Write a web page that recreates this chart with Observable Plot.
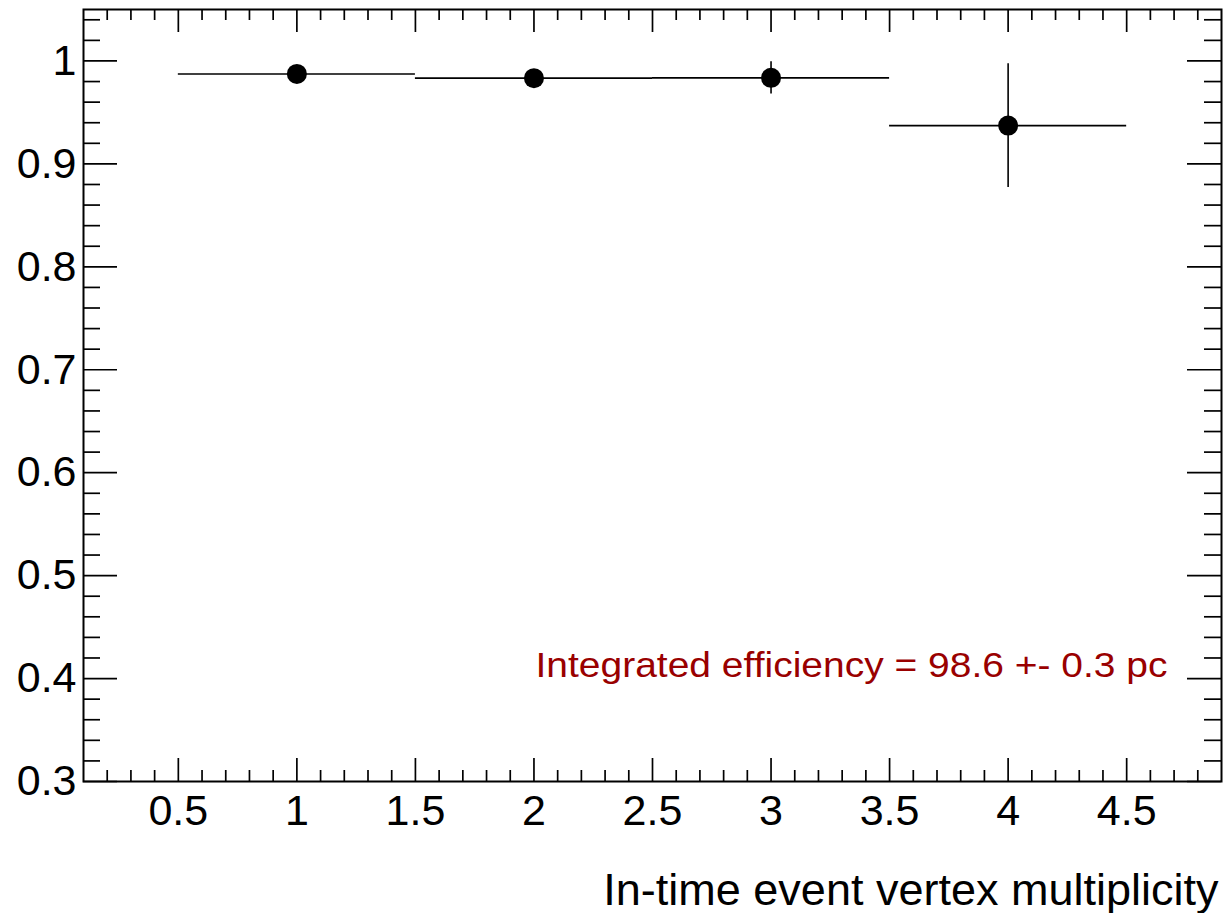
<!DOCTYPE html>
<html><head><meta charset="utf-8">
<script src="https://cdn.jsdelivr.net/npm/d3@7"></script>
<script src="https://cdn.jsdelivr.net/npm/@observablehq/plot@0.6"></script>
<style>body{margin:0;background:#fff}</style>
</head><body><div id="chart"></div>
<script>
// ---- data ----
const multiplicity = [1, 2, 3, 4];
const binLow = [0.5, 1.5, 2.5, 3.5];
const binHigh = [1.5, 2.5, 3.5, 4.5];
const efficiency = [0.9874, 0.9833, 0.9836, 0.9372];
const errLow = [0.004, 0.005, 0.0158, 0.0602];
const errHigh = [0.004, 0.005, 0.0157, 0.0602];

const xMajorTicks = [0.5, 1, 1.5, 2, 2.5, 3, 3.5, 4, 4.5];
const yMajorTicks = [0.3, 0.4, 0.5, 0.6, 0.7, 0.8, 0.9, 1];
const xMinorTicks = d3.range(2, 49).map(d => d / 10).filter(d => !xMajorTicks.includes(d));
const yMinorTicks = d3.range(15, 53).map(d => d / 50).filter(d => !yMajorTicks.includes(d));

const xLabel = "In-time event vertex multiplicity";
const annotation = "Integrated efficiency = 98.6 +- 0.3 pc";

const points = multiplicity.map((m, i) => ({
  x: m, lo: binLow[i], hi: binHigh[i], y: efficiency[i],
  ylo: efficiency[i] - errLow[i], yhi: efficiency[i] + errHigh[i]
}));

// ---- layout ----
const W = 1223, H = 913;
const mL = 83, mR = 2, mT = 9, mB = 132;
const innerW = W - mL - mR, innerH = H - mT - mB;
const majX = 23, minX = 11, majY = 34, minY = 17;
const tickStyle = {stroke: "black", strokeWidth: 1.7};

const chart = Plot.plot({
  width: W, height: H,
  marginLeft: mL, marginRight: mR, marginTop: mT, marginBottom: mB,
  style: {fontFamily: "'Liberation Sans', Arial, Helvetica, sans-serif", background: "white", overflow: "visible"},
  x: {domain: [0.1, 4.9]},
  y: {domain: [0.3, 1.05]},
  marks: [
    // tick marks, all four sides, pointing inward
    Plot.tickX(xMajorTicks, {x: d => d, insetTop: innerH - majX, ...tickStyle}),
    Plot.tickX(xMinorTicks, {x: d => d, insetTop: innerH - minX, ...tickStyle}),
    Plot.tickX(xMajorTicks, {x: d => d, insetBottom: innerH - majX, ...tickStyle}),
    Plot.tickX(xMinorTicks, {x: d => d, insetBottom: innerH - minX, ...tickStyle}),
    Plot.tickY(yMajorTicks, {y: d => d, insetRight: innerW - majY, ...tickStyle}),
    Plot.tickY(yMinorTicks, {y: d => d, insetRight: innerW - minY, ...tickStyle}),
    Plot.tickY(yMajorTicks, {y: d => d, insetLeft: innerW - majY, ...tickStyle}),
    Plot.tickY(yMinorTicks, {y: d => d, insetLeft: innerW - minY, ...tickStyle}),
    // tick labels
    Plot.axisX({ticks: xMajorTicks, tickSize: 0, tickPadding: 13, tickFormat: d => String(d), fontSize: 43, label: null, fill: "black"}),
    Plot.axisY({ticks: yMajorTicks, tickSize: 0, tickPadding: 7, tickFormat: d => String(d), fontSize: 43, label: null, fill: "black"}),
    Plot.frame({stroke: "black", strokeWidth: 2}),
    // data
    Plot.ruleY(points, {y: "y", x1: "lo", x2: "hi", stroke: "black", strokeWidth: 1.6}),
    Plot.ruleX(points, {x: "x", y1: "ylo", y2: "yhi", stroke: "black", strokeWidth: 1.6}),
    Plot.dot(points, {x: "x", y: "y", r: 10, fill: "black", stroke: "none"}),
    // texts
    Plot.text([annotation], {text: d => d, frameAnchor: "bottom-right", dx: -54, dy: -105, textAnchor: "end", lineAnchor: "bottom", fontSize: 35, fill: "#990000"}),
    Plot.text([xLabel], {text: d => d, frameAnchor: "bottom-right", dx: -3, dy: 123, textAnchor: "end", lineAnchor: "bottom", fontSize: 45, fill: "black"})
  ]
});

// the annotation in the reference is horizontally stretched
chart.querySelectorAll("text").forEach(t => {
  if (t.textContent === annotation) {
    t.setAttribute("textLength", 632);
    t.setAttribute("lengthAdjust", "spacingAndGlyphs");
  }
});

document.getElementById("chart").appendChild(chart);
</script>
</body></html>
